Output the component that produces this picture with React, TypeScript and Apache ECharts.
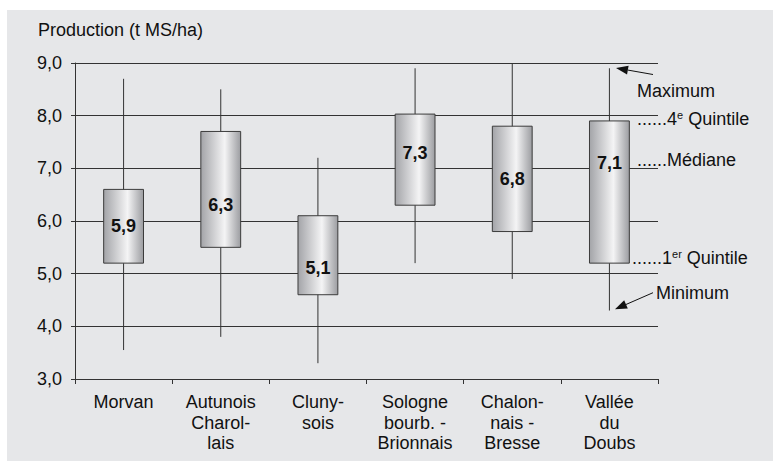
import React, { useEffect, useRef } from "react";
import * as echarts from "echarts";

const categories = [
  "Morvan",
  "Autunois\nCharol-\nlais",
  "Cluny-\nsois",
  "Sologne\nbourb. -\nBrionnais",
  "Chalon-\nnais -\nBresse",
  "Vallée\ndu\nDoubs",
];
const minimums = [3.55, 3.8, 3.3, 5.2, 4.9, 4.3];
const quintile1 = [5.2, 5.5, 4.6, 6.3, 5.8, 5.2];
const medians = [5.9, 6.3, 5.1, 7.3, 6.8, 7.1];
const quintile4 = [6.6, 7.7, 6.1, 8.03, 7.8, 7.9];
const maximums = [8.7, 8.5, 7.2, 8.9, 9.0, 8.9];
const yTicks = [3, 4, 5, 6, 7, 8, 9];

const FONT = "'Liberation Sans', Arial, sans-serif";
const fmt = (v: number) => v.toFixed(1).replace(".", ",");

function arrow(tail: number[], tip: number[]) {
  const dx = tip[0] - tail[0];
  const dy = tip[1] - tail[1];
  const len = Math.sqrt(dx * dx + dy * dy);
  const ux = dx / len;
  const uy = dy / len;
  const hl = 12;
  const hw = 4.5;
  const bx = tip[0] - ux * hl;
  const by = tip[1] - uy * hl;
  const px = -uy;
  const py = ux;
  return [
    {
      type: "line",
      shape: { x1: tail[0], y1: tail[1], x2: bx, y2: by },
      style: { stroke: "#111", lineWidth: 1 },
    },
    {
      type: "polygon",
      shape: {
        points: [
          [tip[0], tip[1]],
          [bx + px * hw, by + py * hw],
          [bx - px * hw, by - py * hw],
        ],
      },
      style: { fill: "#111" },
    },
  ];
}

export default function App() {
  const ref = useRef<HTMLDivElement>(null);
  useEffect(() => {
    if (!ref.current) return;
    const chart = echarts.init(ref.current, null, { renderer: "svg" });
    const data = categories.map((_, i) => [
      i,
      minimums[i],
      quintile1[i],
      medians[i],
      quintile4[i],
      maximums[i],
    ]);
    const rich = {
      n: { font: `18px ${FONT}`, fill: "#111", lineHeight: 20 },
      s: { font: `11px ${FONT}`, fill: "#111", lineHeight: 11, verticalAlign: "top" },
    };
    const option: any = {
      animation: false,
      backgroundColor: "#ffffff",
      grid: { left: 75, right: 115, top: 63, bottom: 82, containLabel: false },
      xAxis: {
        type: "category",
        data: categories,
        boundaryGap: true,
        axisLine: { show: true, lineStyle: { color: "#333", width: 1 } },
        axisTick: { show: true, length: 5, alignWithLabel: false, lineStyle: { color: "#333" } },
        axisLabel: {
          interval: 0,
          margin: 13,
          fontSize: 18,
          lineHeight: 20.5,
          color: "#111",
          fontFamily: FONT,
        },
        splitLine: { show: false },
      },
      yAxis: {
        type: "value",
        min: yTicks[0],
        max: yTicks[yTicks.length - 1],
        interval: 1,
        axisLine: { show: true, lineStyle: { color: "#333", width: 1 } },
        axisTick: { show: true, length: 4, lineStyle: { color: "#333" } },
        axisLabel: {
          formatter: (v: number) => fmt(v),
          fontSize: 18,
          color: "#111",
          fontFamily: FONT,
          margin: 13,
        },
        splitLine: { show: true, lineStyle: { color: "#333", width: 1 } },
      },
      series: [
        {
          type: "custom",
          data,
          encode: { x: 0, y: [1, 2, 3, 4, 5] },
          renderItem: (params: any, api: any) => {
            const x = api.value(0);
            const pMin = api.coord([x, api.value(1)]);
            const pQ1 = api.coord([x, api.value(2)]);
            const pMed = api.coord([x, api.value(3)]);
            const pQ4 = api.coord([x, api.value(4)]);
            const pMax = api.coord([x, api.value(5)]);
            const w = api.size([1, 0])[0] * 0.41;
            const grad = new echarts.graphic.LinearGradient(0, 0, 1, 0, [
              { offset: 0, color: "#a3a4a8" },
              { offset: 0.6, color: "#f4f4f5" },
              { offset: 1, color: "#9c9da1" },
            ]);
            return {
              type: "group",
              children: [
                {
                  type: "line",
                  shape: { x1: pMin[0], y1: pMin[1], x2: pMax[0], y2: pMax[1] },
                  style: { stroke: "#333", lineWidth: 1 },
                },
                {
                  type: "rect",
                  shape: { x: pQ4[0] - w / 2, y: pQ4[1], width: w, height: pQ1[1] - pQ4[1] },
                  style: { fill: grad, stroke: "#3c3c3c", lineWidth: 1 },
                },
                {
                  type: "text",
                  style: {
                    text: fmt(api.value(3)),
                    x: pMed[0],
                    y: pMed[1],
                    align: "center",
                    verticalAlign: "middle",
                    font: `bold 18px ${FONT}`,
                    fill: "#111",
                  },
                },
              ],
            };
          },
        },
      ],
      graphic: [
        {
          type: "rect",
          z: -10,
          silent: true,
          shape: { x: 7, y: 10, width: 766, height: 451 },
          style: { fill: "#e6e7e9" },
        },
        {
          type: "text",
          left: 38,
          top: 21,
          style: { text: "Production (t MS/ha)", font: `18px ${FONT}`, fill: "#111" },
        },
        {
          type: "text",
          x: 637,
          y: 91,
          style: { text: "Maximum", font: `18px ${FONT}`, fill: "#111", verticalAlign: "middle" },
        },
        {
          type: "text",
          x: 637,
          y: 119,
          style: {
            text: "{n|......4}{s|e}{n| Quintile}",
            rich,
            verticalAlign: "middle",
          },
        },
        {
          type: "text",
          x: 637,
          y: 160,
          style: { text: "......Médiane", font: `18px ${FONT}`, fill: "#111", verticalAlign: "middle" },
        },
        {
          type: "text",
          x: 632,
          y: 258,
          style: {
            text: "{n|......1}{s|er}{n| Quintile}",
            rich,
            verticalAlign: "middle",
          },
        },
        {
          type: "text",
          x: 656,
          y: 293,
          style: { text: "Minimum", font: `18px ${FONT}`, fill: "#111", verticalAlign: "middle" },
        },
        ...arrow([653, 74.5], [616, 68]),
        ...arrow([653, 292.7], [615, 309.3]),
      ],
    };
    chart.setOption(option);
    return () => chart.dispose();
  }, []);
  return (
    <div
      ref={ref}
      style={{ position: "fixed", left: 0, top: 0, width: 773, height: 461 }}
    />
  );
}
